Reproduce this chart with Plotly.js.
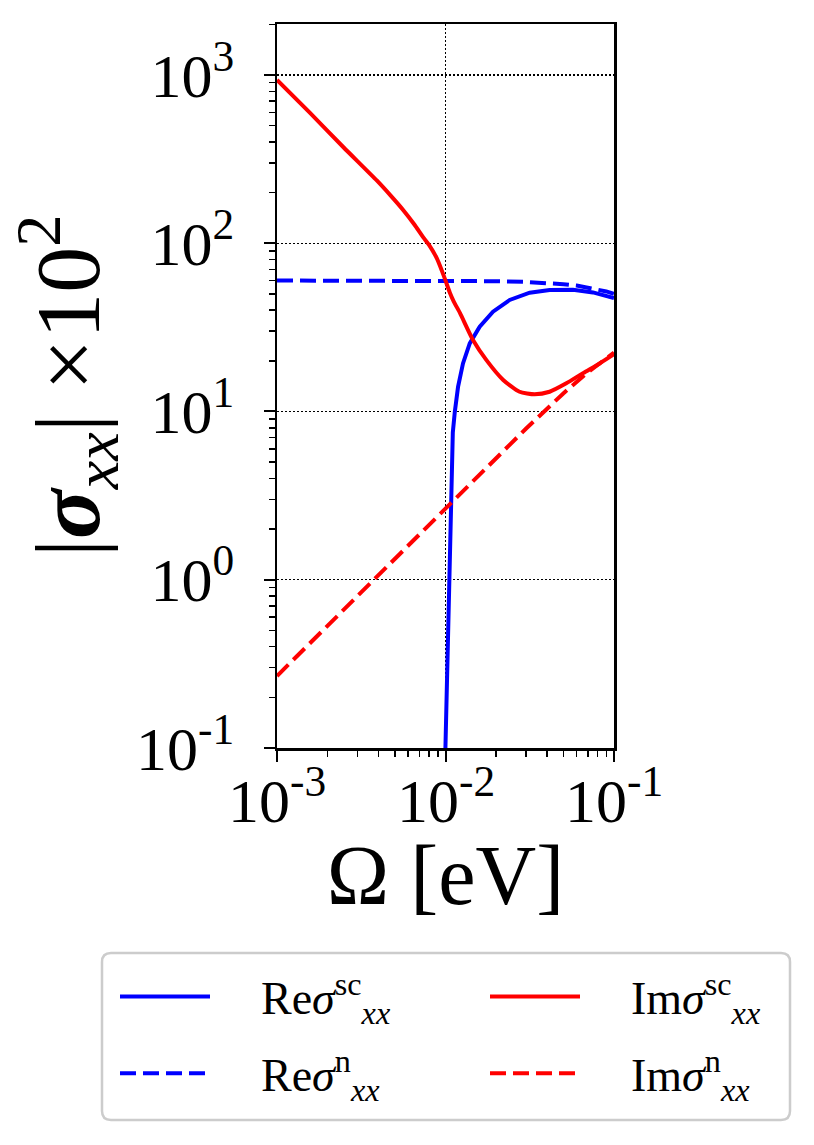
<!DOCTYPE html>
<html>
<head>
<meta charset="utf-8">
<script src="https://cdn.plot.ly/plotly-3.0.1.min.js"></script>
<style>
    body { margin: 0; background: white; }
    #graph { width: 814px; height: 1145px; }
</style>
</head>
<body>
<div id="graph"></div>
<script>
// frequency (eV) and |sigma_xx| x 10^2
const omegaReSc = [0.00999, 0.01105, 0.01135, 0.01187, 0.0127, 0.01393, 0.01596, 0.01914, 0.02404, 0.0316, 0.0415, 0.0571, 0.075, 0.1];
const reSc = [0.1, 7.5, 9.9, 14.0, 19.3, 25.4, 31.9, 39.2, 46.0, 50.8, 52.7, 52.9, 51.0, 47.2];

const omegaImSc = [0.001, 0.00157, 0.00248, 0.00391, 0.0047, 0.00562, 0.0065, 0.0074, 0.0080, 0.0089, 0.0095, 0.0100, 0.0106, 0.0112, 0.0122, 0.01456, 0.0175, 0.022, 0.0275, 0.0338, 0.0415, 0.0521, 0.0655, 0.0822, 0.1];
const imSc = [935, 595, 372, 236, 193, 157, 130, 108, 97.5, 81, 69, 60, 51, 45, 38.4, 26.6, 20.2, 15.4, 13.1, 12.65, 13.1, 14.7, 16.9, 19.3, 21.9];

const omegaReN = [0.001, 0.003, 0.01, 0.02, 0.03, 0.04, 0.05, 0.06, 0.07, 0.08, 0.09, 0.1];
const reN = [60, 60, 59.9, 59.5, 58.9, 58.2, 57.1, 56.0, 54.6, 53.3, 51.7, 50.0];

const omegaImN = [0.001, 0.002, 0.005, 0.01, 0.02, 0.03, 0.05, 0.07, 0.1];
const imN = [0.268, 0.536, 1.34, 2.68, 5.32, 7.9, 12.8, 17.1, 22.4];

const xTickVals = [0.001, 0.01, 0.1];
const xTickText = ['10<sup>-3</sup>', '10<sup>-2</sup>', '10<sup>-1</sup>'];
const yTickVals = [0.1, 1, 10, 100, 1000];
const yTickText = ['10<sup>-1</sup>', '10<sup>0</sup>', '10<sup>1</sup>', '10<sup>2</sup>', '10<sup>3</sup>'];

const serif = 'Liberation Serif, Times New Roman, serif';
const lw = 4;
const dashed = '16px,7px';

// minor ticks 2..9 in every decade
function minorTicks(lo, hi) {
    const out = [];
    for (let e = lo; e < hi; e++) {
        for (let m = 2; m <= 9; m++) out.push(m * Math.pow(10, e));
    }
    return out;
}

const pad = '&nbsp;&nbsp;&nbsp;&nbsp;';

const traceReSc = {
    x: omegaReSc, y: reSc,
    name: pad + 'Re<i>σ</i><sup>sc</sup><sub><i>xx</i></sub>',
    type: 'scatter', mode: 'lines',
    line: { color: '#0000ff', width: lw },
    legend: 'legend', legendgroup: 'a'
};
const traceReN = {
    x: omegaReN, y: reN,
    name: pad + 'Re<i>σ</i><sup>n</sup><sub><i>xx</i></sub>',
    type: 'scatter', mode: 'lines',
    line: { color: '#0000ff', width: lw, dash: dashed },
    legend: 'legend', legendgroup: 'b'
};
const traceImSc = {
    x: omegaImSc, y: imSc,
    name: pad + 'Im<i>σ</i><sup>sc</sup><sub><i>xx</i></sub>',
    type: 'scatter', mode: 'lines',
    line: { color: '#ff0000', width: lw, shape: 'spline', smoothing: 0.6 },
    legend: 'legend2', legendgroup: 'c'
};
const traceImN = {
    x: omegaImN, y: imN,
    name: pad + 'Im<i>σ</i><sup>n</sup><sub><i>xx</i></sub>',
    type: 'scatter', mode: 'lines',
    line: { color: '#ff0000', width: lw, dash: dashed },
    legend: 'legend2', legendgroup: 'd'
};

const data = [traceReSc, traceReN, traceImSc, traceImN];

// plot area in pixels, used to place the legend box
const L = 277, R = 614, T = 24, B = 748;
const W = R - L, H = B - T;
const px = v => (v - L) / W;
const py = v => (B - v) / H;

function roundBox(x0, y0, x1, y1, r) {
    const rx = r / W, ry = r / H;
    const a = px(x0), b = px(x1), t = py(y0), d = py(y1);
    return 'M' + (a + rx) + ',' + t + ' L' + (b - rx) + ',' + t +
        ' Q' + b + ',' + t + ' ' + b + ',' + (t - ry) +
        ' L' + b + ',' + (d + ry) +
        ' Q' + b + ',' + d + ' ' + (b - rx) + ',' + d +
        ' L' + (a + rx) + ',' + d +
        ' Q' + a + ',' + d + ' ' + a + ',' + (d + ry) +
        ' L' + a + ',' + (t - ry) +
        ' Q' + a + ',' + t + ' ' + (a + rx) + ',' + t + ' Z';
}

const tickFont = { family: serif, size: 62, color: 'black' };

// x tick labels sit closer to the axis than plotly allows, so write them as annotations
const xLabels = xTickVals.map((v, i) => ({
    xref: 'x', yref: 'paper',
    x: Math.log10(v), y: py(796),
    xanchor: 'center', yanchor: 'middle',
    text: xTickText[i], showarrow: false,
    font: tickFont
}));

const axisCommon = {
    type: 'log',
    showline: true,
    linecolor: 'black',
    linewidth: 2.5,
    mirror: true,
    ticks: 'outside',
    ticklen: 11,
    tickwidth: 2,
    tickcolor: 'black',
    tickmode: 'array',
    tickfont: tickFont,
    showgrid: true,
    gridcolor: 'black',
    gridwidth: 1.2,
    griddash: '1.5px,2.5px',
    zeroline: false,
    automargin: false
};

const layout = {
    width: 814,
    height: 1145,
    margin: { l: L, r: 814 - R, t: T, b: 1145 - B },
    paper_bgcolor: 'white',
    plot_bgcolor: 'white',
    showlegend: true,
    xaxis: Object.assign({}, axisCommon, {
        range: [-3, -1],
        tickvals: xTickVals,
        ticktext: xTickText,
        showticklabels: false,
        minor: { tickmode: 'array', tickvals: minorTicks(-3, -1), ticks: 'outside', ticklen: 6, tickwidth: 1.5, tickcolor: 'black', showgrid: false },
        title: { text: 'Ω [eV]', font: { family: serif, size: 84, color: 'black' }, standoff: 85 }
    }),
    yaxis: Object.assign({}, axisCommon, {
        range: [-1, 3.303],
        tickvals: yTickVals,
        ticktext: yTickText,
        ticklabelstandoff: 17,
        minor: { tickmode: 'array', tickvals: minorTicks(-1, 4), ticks: 'outside', ticklen: 6, tickwidth: 1.5, tickcolor: 'black', showgrid: false },
        title: { text: '|<b><i>σ</i></b><sub><i>xx</i></sub>| ×10<sup>2</sup>', font: { family: serif, size: 92, color: 'black' }, standoff: 6 }
    }),
    annotations: xLabels,
    legend: {
        x: px(115), y: py(960), xanchor: 'left', yanchor: 'top',
        bgcolor: 'rgba(0,0,0,0)', borderwidth: 0,
        itemwidth: 90, tracegroupgap: 14,
        font: { family: serif, size: 46, color: 'black' }
    },
    legend2: {
        x: px(485), y: py(960), xanchor: 'left', yanchor: 'top',
        bgcolor: 'rgba(0,0,0,0)', borderwidth: 0,
        itemwidth: 90, tracegroupgap: 14,
        font: { family: serif, size: 46, color: 'black' }
    },
    shapes: [{
        type: 'path', xref: 'paper', yref: 'paper', layer: 'below',
        path: roundBox(102, 953, 790, 1120, 9),
        line: { color: '#cccccc', width: 2.5 },
        fillcolor: 'white'
    }]
};

Plotly.newPlot('graph', data, layout, { staticPlot: true });
</script>
</body>
</html>
